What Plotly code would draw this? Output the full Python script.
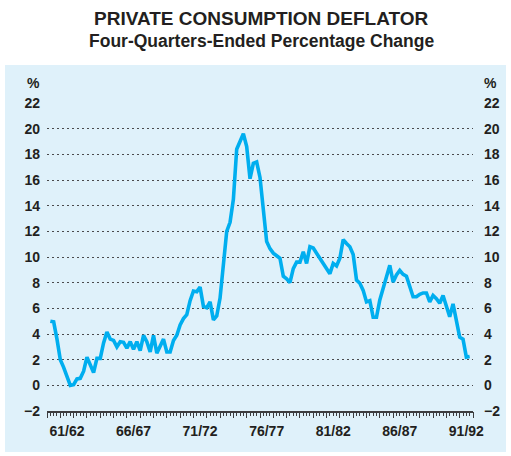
import plotly.graph_objects as go

# Four-quarters-ended % change, quarterly from Sep quarter 1960
first_quarter_end = 1960.75
values = [
    5.0, 4.95, 3.6, 2.0, 1.4, 0.6, 0.0, 0.05, 0.5, 0.55,
    1.1, 2.2, 1.5, 1.0, 2.1, 2.1, 3.3, 4.15, 3.6, 3.5,
    3.0, 3.4, 3.35, 2.9, 3.4, 2.8, 3.4, 2.7, 3.9, 3.4,
    2.6, 3.9, 2.5, 3.1, 3.6, 2.6, 2.6, 3.5, 3.9, 4.7,
    5.2, 5.5, 6.6, 7.35, 7.3, 7.65, 6.15, 6.05, 6.5, 5.1,
    5.4, 6.8, 9.7, 12.0, 12.7, 14.5, 18.4, 19.1, 19.6, 18.6,
    16.1, 17.3, 17.4, 16.2, 13.9, 11.2, 10.65, 10.3, 10.1, 9.9,
    8.5, 8.3, 8.0, 9.1, 9.6, 9.6, 10.4, 9.5, 10.8, 10.7,
    10.3, 9.9, 9.4, 9.0, 8.7, 9.5, 9.3, 9.9, 11.35, 11.05,
    10.8, 10.2, 8.2, 7.95, 7.4, 6.5, 6.6, 5.3, 5.3, 6.65,
    7.6, 8.5, 9.35, 8.05, 8.6, 8.95, 8.65, 8.5, 7.6, 6.9,
    6.9, 7.1, 7.2, 7.2, 6.5, 7.0, 6.75, 6.4, 7.0, 6.1,
    5.35, 6.35, 5.1, 3.75, 3.6, 2.2, 2.25,
]
fiscal_labels = ["61/62", "66/67", "71/72", "76/77", "81/82", "86/87", "91/92"]
y_ticks = list(range(-2, 23, 2))

x_vals = [first_quarter_end + 0.25 * i for i in range(len(values))]
label_pos = [1900 + int(lbl[:2]) + 1.0 for lbl in fiscal_labels]
year_bounds = [1960.5 + i for i in range(33)]
quarter_ticks = [1960.5 + 0.25 * i for i in range(129)]

X0, X1 = 1960.5, 1992.5
Y0, Y1 = -2, 22

font_main = "Liberation Sans, Arial, sans-serif"
txt = "#231f20"
panel = "#dff1fa"
tick_col = "#3c3c3e"

fig = go.Figure()
fig.add_trace(go.Scatter(
    x=x_vals, y=values, mode="lines",
    line=dict(color="#00aeef", width=3.6),
    showlegend=False, hoverinfo="skip",
))
for xa, ya in (("x", "y2"), ("x2", "y"), ("x3", "y")):
    fig.add_trace(go.Scatter(x=[X0], y=[Y0], xaxis=xa, yaxis=ya, mode="markers",
                             marker=dict(opacity=0), showlegend=False, hoverinfo="skip"))

L, R, T, B = 47, 38, 103, 45
W, H = 511, 456
pw = W - L - R
ph = H - T - B

def px_to_paper_x(px):
    return (px - L) / pw

def py_to_paper_y(py):
    return (H - B - py) / ph

lab_font = dict(family=font_main, size=14, color=txt, weight="bold")

def white_strip(x0, x1, y0, y1):
    return dict(type="rect", xref="paper", yref="paper", layer="below",
                x0=px_to_paper_x(x0), x1=px_to_paper_x(x1),
                y0=py_to_paper_y(y1), y1=py_to_paper_y(y0),
                fillcolor="white", line=dict(width=0))

fig.update_layout(
    width=W, height=H,
    margin=dict(l=L, r=R, t=T, b=B, pad=0, autoexpand=False),
    paper_bgcolor=panel,
    plot_bgcolor=panel,
    xaxis=dict(
        range=[X0, X1], tickmode="array", tickvals=quarter_ticks,
        showticklabels=False,
        ticks="outside", ticklen=3, tickwidth=1, tickcolor=tick_col,
        showline=True, linecolor=tick_col, linewidth=1.5,
        showgrid=False, zeroline=False, automargin=False,
    ),
    xaxis3=dict(
        range=[X0, X1], overlaying="x", anchor="y", side="bottom",
        tickmode="array", tickvals=year_bounds, showticklabels=False,
        ticks="outside", ticklen=6, tickwidth=1.4, tickcolor=tick_col,
        showline=False, showgrid=False, zeroline=False, automargin=False,
    ),
    xaxis2=dict(
        range=[X0, X1], overlaying="x", anchor="y", side="bottom",
        tickmode="array", tickvals=label_pos, ticktext=fiscal_labels,
        ticks="outside", ticklen=7, tickcolor="rgba(0,0,0,0)",
        tickfont=lab_font,
        showline=False, showgrid=False, zeroline=False, automargin=False,
    ),
    yaxis=dict(
        range=[Y0, Y1], tickmode="array", tickvals=y_ticks,
        ticks="", showline=False, zeroline=False,
        showgrid=True, gridcolor="#4a4a4c", gridwidth=1.3, griddash="2px,3px",
        tickfont=lab_font, ticklabelstandoff=6, automargin=False,
    ),
    yaxis2=dict(
        range=[Y0, Y1], overlaying="y", side="right", anchor="x",
        tickmode="array", tickvals=y_ticks,
        ticks="", showline=False, zeroline=False, showgrid=False,
        tickfont=lab_font, ticklabelstandoff=10, automargin=False,
    ),
    shapes=[
        white_strip(0, W, 0, 65),
        white_strip(0, 5, 0, H),
        white_strip(506, W, 0, H),
        white_strip(0, W, 452, H),
    ],
    annotations=[
        dict(text="<b>PRIVATE CONSUMPTION DEFLATOR</b>", xref="paper", yref="paper",
             x=px_to_paper_x(261), y=py_to_paper_y(18), xanchor="center", yanchor="middle",
             showarrow=False, font=dict(family=font_main, size=19, color=txt)),
        dict(text="<b>Four-Quarters-Ended Percentage Change</b>", xref="paper", yref="paper",
             x=px_to_paper_x(261), y=py_to_paper_y(41), xanchor="center", yanchor="middle",
             showarrow=False, font=dict(family=font_main, size=17.5, color=txt)),
        dict(text="<b>%</b>", xref="paper", yref="paper",
             x=px_to_paper_x(33), y=py_to_paper_y(83), xanchor="center", yanchor="middle",
             showarrow=False, font=dict(family=font_main, size=14, color=txt)),
        dict(text="<b>%</b>", xref="paper", yref="paper",
             x=px_to_paper_x(490), y=py_to_paper_y(83), xanchor="center", yanchor="middle",
             showarrow=False, font=dict(family=font_main, size=14, color=txt)),
    ],
)

fig.write_html("out.html", config={"displayModeBar": False},
               post_script="document.body.style.margin='0';")
